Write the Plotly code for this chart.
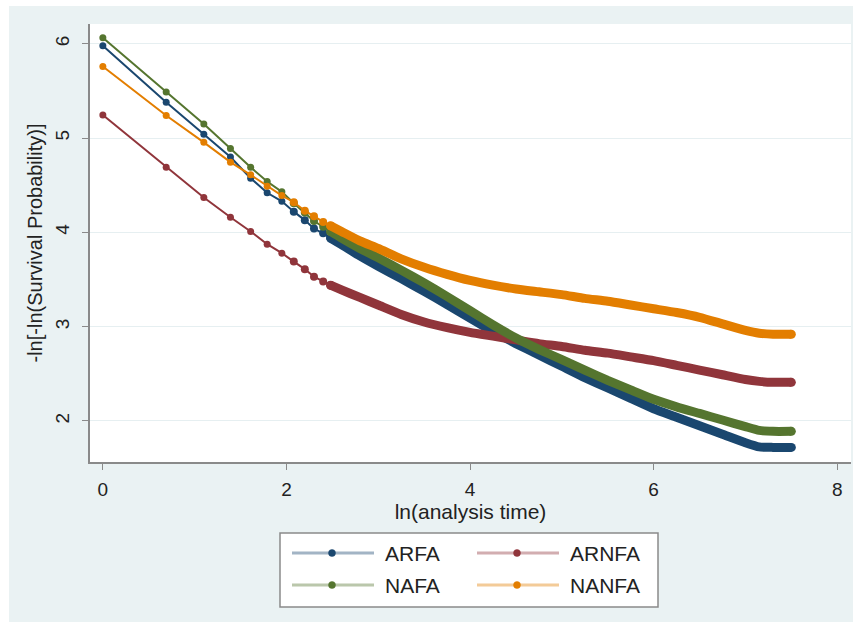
import plotly.graph_objects as go

# ---------------- data ----------------
series_names = ["ARFA", "ARNFA", "NAFA", "NANFA"]
series_colors = ["#1a476f", "#90353b", "#55752f", "#e37e00"]

# early, clearly separated observations: ln(t) for t = 1..12
ln_time_early = [0.0, 0.69, 1.10, 1.39, 1.61, 1.79, 1.95, 2.08, 2.20, 2.30, 2.40, 2.48]
arfa_early  = [5.98, 5.38, 5.04, 4.80, 4.575, 4.42, 4.33, 4.22, 4.13, 4.04, 3.99, 3.94]
arnfa_early = [5.245, 4.69, 4.37, 4.16, 4.01, 3.875, 3.78, 3.69, 3.61, 3.53, 3.48, 3.44]
nafa_early  = [6.065, 5.49, 5.15, 4.89, 4.69, 4.54, 4.43, 4.31, 4.21, 4.12, 4.06, 4.01]
nanfa_early = [5.76, 5.24, 4.955, 4.745, 4.61, 4.49, 4.39, 4.32, 4.23, 4.17, 4.11, 4.07]

# dense part (markers merge into a solid band)
ln_time_dense = [2.48, 2.6, 2.8, 3.0, 3.25, 3.5, 3.75, 4.0, 4.25, 4.5, 4.75, 5.0,
                 5.25, 5.5, 5.75, 6.0, 6.25, 6.5, 6.75, 7.0, 7.15, 7.3, 7.5]
arfa_dense  = [3.94, 3.87, 3.75, 3.64, 3.51, 3.375, 3.235, 3.09, 2.95, 2.82, 2.70, 2.58,
               2.46, 2.35, 2.24, 2.13, 2.04, 1.95, 1.86, 1.77, 1.725, 1.72, 1.72]
arnfa_dense = [3.44, 3.39, 3.31, 3.23, 3.13, 3.05, 2.99, 2.94, 2.90, 2.86, 2.82, 2.79,
               2.75, 2.72, 2.68, 2.64, 2.59, 2.54, 2.49, 2.44, 2.42, 2.41, 2.41]
nafa_dense  = [4.01, 3.94, 3.83, 3.73, 3.60, 3.465, 3.32, 3.17, 3.02, 2.88, 2.76, 2.65,
               2.54, 2.43, 2.33, 2.23, 2.15, 2.08, 2.01, 1.94, 1.90, 1.89, 1.89]
nanfa_dense = [4.07, 4.01, 3.91, 3.83, 3.72, 3.63, 3.555, 3.49, 3.44, 3.40, 3.37, 3.34,
               3.30, 3.27, 3.23, 3.19, 3.15, 3.10, 3.03, 2.96, 2.93, 2.92, 2.92]

early_values = [arfa_early, arnfa_early, nafa_early, nanfa_early]
dense_values = [arfa_dense, arnfa_dense, nafa_dense, nanfa_dense]

x_ticks = [0, 2, 4, 6, 8]
y_ticks = [2, 3, 4, 5, 6]

# ---------------- figure ----------------
W, H = 853, 622
ML, MR, MT, MB = 90, 2, 24, 160
PW, PH = W - ML - MR, H - MT - MB

def px_x(px):
    return (px - ML) / PW

def px_y(py):
    return (H - MB - py) / PH

fig = go.Figure()
for name, color, ye, yd in zip(series_names, series_colors, early_values, dense_values):
    early_sizes = [7] * 7 + [8] * (len(ye) - 7)
    fig.add_trace(go.Scatter(
        x=ln_time_early, y=ye, mode="lines+markers", name=name,
        line=dict(color=color, width=2),
        marker=dict(color=color, size=early_sizes, opacity=1, symbol="circle",
                    line=dict(width=0)),
        showlegend=False, hoverinfo="skip"))
    end_sizes = [9] + [0] * (len(yd) - 2) + [9]
    fig.add_trace(go.Scatter(
        x=ln_time_dense, y=yd, mode="lines+markers", name=name,
        line=dict(color=color, width=9, shape="spline", smoothing=0.5),
        marker=dict(color=color, size=end_sizes, opacity=1, symbol="circle",
                    line=dict(width=0)),
        showlegend=False, hoverinfo="skip"))

FONT = "Liberation Sans, Arial, sans-serif"
BG = "#eaf2f3"
TXT = "#222222"

fig.update_layout(
    width=W, height=H,
    margin=dict(l=ML, r=MR, t=MT, b=MB),
    paper_bgcolor=BG, plot_bgcolor="white",
    font=dict(family=FONT, color=TXT, size=19),
    showlegend=False,
)
fig.update_xaxes(
    range=[-0.14, 8.15], tickvals=x_ticks, ticktext=[str(v) for v in x_ticks],
    showgrid=False, zeroline=False,
    showline=True, linecolor="#8a8a8a", linewidth=1.5,
    ticks="outside", ticklen=6, tickwidth=1.2, tickcolor="#8a8a8a",
    tickfont=dict(size=19, color=TXT), ticklabelstandoff=3,
    title=dict(text="ln(analysis time)", font=dict(size=21, color=TXT), standoff=0),
)
fig.update_yaxes(
    range=[1.565, 6.21], tickvals=y_ticks, ticktext=[str(v) for v in y_ticks],
    showgrid=True, gridcolor="#e6eff1", gridwidth=1.2, zeroline=False,
    showline=True, linecolor="#8a8a8a", linewidth=1.5,
    ticks="outside", ticklen=6, tickwidth=1.2, tickcolor="#8a8a8a",
    tickangle=-90, tickfont=dict(size=19, color=TXT), ticklabelstandoff=6,
    title=dict(text="-ln[-ln(Survival Probability)]", font=dict(size=20, color=TXT), standoff=4),
)

shapes = []
# thin white border at top / left of the image
shapes.append(dict(type="rect", xref="paper", yref="paper",
                   x0=px_x(0), x1=px_x(9), y0=px_y(H), y1=px_y(0),
                   fillcolor="white", line=dict(width=0), layer="above"))
shapes.append(dict(type="rect", xref="paper", yref="paper",
                   x0=px_x(0), x1=px_x(W), y0=px_y(6), y1=px_y(0),
                   fillcolor="white", line=dict(width=0), layer="above"))

# manual legend (2 columns x 2 rows)
shapes.append(dict(type="rect", xref="paper", yref="paper",
                   x0=px_x(280), x1=px_x(658), y0=px_y(607), y1=px_y(533),
                   fillcolor="white", line=dict(color="#8a8a8a", width=1.5), layer="above"))
legend_pos = [(292, 553), (477, 553), (292, 585), (477, 585)]
annotations = []
for name, color, (lx, ly) in zip(series_names, series_colors, legend_pos):
    shapes.append(dict(type="line", xref="paper", yref="paper",
                       x0=px_x(lx), x1=px_x(lx + 82), y0=px_y(ly), y1=px_y(ly),
                       line=dict(color=color, width=3), opacity=0.4, layer="above"))
    shapes.append(dict(type="circle", xref="paper", yref="paper",
                       xsizemode="pixel", ysizemode="pixel",
                       xanchor=px_x(lx + 40), yanchor=px_y(ly),
                       x0=-3.5, x1=3.5, y0=-3.5, y1=3.5,
                       fillcolor=color, line=dict(color=color, width=0.5), layer="above"))
    annotations.append(dict(xref="paper", yref="paper", x=px_x(lx + 91), y=px_y(ly),
                            xanchor="left", yanchor="middle", showarrow=False,
                            text=name, font=dict(size=21, color=TXT, family=FONT)))

fig.update_layout(shapes=shapes, annotations=annotations)
fig.write_html("out.html")
